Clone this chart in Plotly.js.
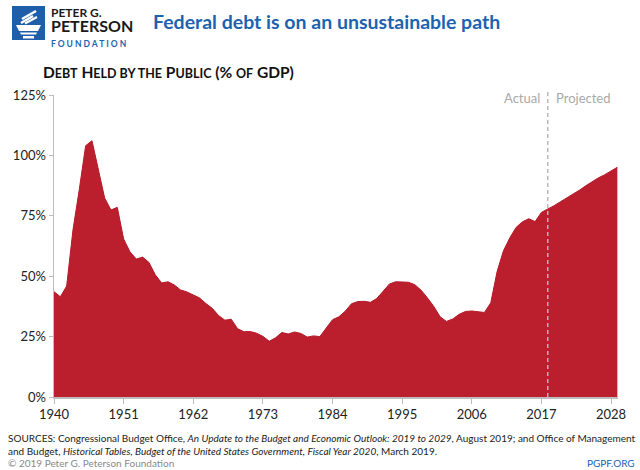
<!DOCTYPE html>
<html>
<head>
<meta charset="utf-8">
<script src="https://cdn.plot.ly/plotly-3.0.1.min.js"></script>
<style>
html,body{margin:0;padding:0;background:#fff;}
#chart{width:640px;height:470px;}
</style>
</head>
<body>
<div id="chart"></div>
<script>
// ---- data ----
const years = [];
for (let y = 1940; y <= 2029; y++) years.push(y);
const debtPct = [
  43.6, 41.5, 45.9, 69.2, 86.0, 104.0, 106.1, 94.0, 82.4, 77.4,   // 1940-1949
  78.5, 65.4, 60.1, 57.1, 57.9, 55.7, 50.6, 47.2, 47.7, 46.4,    // 1950-1959
  44.3, 43.5, 42.3, 41.0, 38.7, 36.7, 33.7, 31.8, 32.2, 28.3,    // 1960-1969
  27.0, 27.1, 26.4, 25.1, 23.1, 24.5, 26.7, 26.1, 26.9, 26.3,    // 1970-1979
  24.8, 25.3, 25.0, 28.5, 32.0, 33.2, 35.5, 38.6, 39.5, 39.6,    // 1980-1989
  39.2, 40.8, 44.0, 46.8, 47.7, 47.7, 47.5, 46.5, 44.2, 41.0,    // 1990-1999
  37.5, 33.2, 31.3, 32.3, 34.2, 35.4, 35.6, 35.3, 35.0, 39.0,    // 2000-2009
  51.9, 60.5, 65.8, 70.2, 72.5, 73.8, 72.6, 76.4, 77.7, 79.2,    // 2010-2019
  80.8, 82.3, 83.9, 85.6, 87.4, 89.1, 90.7, 92.0, 93.6, 95.1     // 2020-2029
];
const lastActualYear = 2018;
const xTickVals = [1940, 1951, 1962, 1973, 1984, 1995, 2006, 2017, 2028];
const yTickVals = [0, 25, 50, 75, 100, 125];
const yTickText = ['0%', '25%', '50%', '75%', '100%', '125%'];

const titleText = 'Federal debt is on an unsustainable path';
const SC = '<span style="font-size:12.5px">';
const subtitleText = 'D' + SC + 'EBT</span> H' + SC + 'ELD BY THE</span> P' + SC + 'UBLIC</span> (% ' + SC + 'OF</span> GDP)';
const sourceLine1 = 'SOURCES: Congressional Budget Office, <i>An Update to the Budget and Economic Outlook: 2019 to 2029</i>, August 2019; and Office of Management';
const sourceLine2 = 'and Budget, <i>Historical Tables, Budget of the United States Government, Fiscal Year 2020</i>, March 2019.';
const copyText = '© 2019 Peter G. Peterson Foundation';
const siteText = 'PGPF.ORG';
const logoLine1 = 'PETER G.';
const logoLine2 = 'PETERSON';
const logoLine3 = 'FOUNDATION'.split('').join(' ');

// ---- layout helpers (pixel -> paper) ----
const M = {l: 54, r: 22, t: 95, b: 73};
const PW = 640 - M.l - M.r, PH = 470 - M.t - M.b;
const px = x => (x - M.l) / PW;
const py = y => (470 - M.b - y) / PH;

const RED = '#bb1e2d';
const BLUE = '#1b63b0';
const FONT = 'Lato, "Open Sans", sans-serif';

function ann(text, x, y, opts) {
  return Object.assign({
    text: text, xref: 'paper', yref: 'paper', x: px(x), y: py(y),
    showarrow: false, xanchor: 'left', yanchor: 'middle',
    font: {family: FONT, size: 13, color: '#222'}
  }, opts || {});
}

// logo square and torch icon
const LX = 12, LY = 6, LS = 34;
function P(pts) {
  return 'M ' + pts.map(p => px(LX + p[0]) + ',' + py(LY + p[1])).join(' L ') + ' Z';
}
function L2(a, b) {
  return 'M ' + px(LX + a[0]) + ',' + py(LY + a[1]) + ' L ' + px(LX + b[0]) + ',' + py(LY + b[1]);
}

const shapes = [
  {type: 'rect', xref: 'paper', yref: 'paper', x0: px(LX), x1: px(LX + LS - 1), y0: py(LY), y1: py(LY + LS),
   fillcolor: '#1f5ea8', line: {width: 0}, layer: 'above'},
  {type: 'path', xref: 'paper', yref: 'paper', path: P([[4,19],[29,19],[26,25],[7,25]]), fillcolor: '#fff', line: {width: 0}},
  {type: 'path', xref: 'paper', yref: 'paper', path: P([[8,26.5],[25,26.5],[24,28.5],[9,28.5]]), fillcolor: '#fff', line: {width: 0}},
  {type: 'path', xref: 'paper', yref: 'paper', path: P([[11,30],[22,30],[22,32.5],[11,32.5]]), fillcolor: '#fff', line: {width: 0}},
  {type: 'path', xref: 'paper', yref: 'paper', path: L2([9,17],[21,10]), line: {color: '#fff', width: 2.5}},
  {type: 'path', xref: 'paper', yref: 'paper', path: L2([10,13],[24,5]), line: {color: '#fff', width: 2.5}},
  {type: 'path', xref: 'paper', yref: 'paper', path: L2([13,17.5],[25,11]), line: {color: '#fff', width: 2}},
  // actual / projected divider
  {type: 'line', xref: 'x', yref: 'paper', x0: lastActualYear, x1: lastActualYear, y0: 0, y1: py(91),
   line: {color: '#b9b9b9', width: 1.5, dash: '4px,3px'}, layer: 'above'}
];

const logoText =
  '<span style="font-size:12px">' + logoLine1 + '</span><br>' +
  '<span style="font-size:16px">' + logoLine2 + '</span><br>' +
  '<span style="font-size:8.5px;color:' + BLUE + '">' + logoLine3 + '</span>';

const annotations = [
  ann(logoText, 50, 26.5, {align: 'left', borderpad: 0, font: {family: FONT, size: 11.5, color: '#1a1a1a', weight: 'bold'}}),
  ann(titleText, 151, 21, {font: {family: FONT, size: 19.5, color: BLUE, weight: 'bold'}}),
  ann(subtitleText, 41, 72, {font: {family: FONT, size: 15.5, color: '#111', weight: 'bold'}}),
  ann('Actual', 542, 98, {xanchor: 'right', font: {family: FONT, size: 13, color: '#a9a9a9'}}),
  ann('Projected', 554, 98, {font: {family: FONT, size: 13, color: '#a9a9a9'}}),
  ann(sourceLine1, 6, 438, {font: {family: FONT, size: 10, color: '#222'}}),
  ann(sourceLine2, 6, 451, {font: {family: FONT, size: 10, color: '#222'}}),
  ann(copyText, 6, 463, {font: {family: FONT, size: 10, color: '#8a8a8a'}}),
  ann(siteText, 637, 463, {xanchor: 'right', font: {family: FONT, size: 10, color: BLUE}})
];

const trace = {
  x: years, y: debtPct, type: 'scatter', mode: 'lines',
  fill: 'tozeroy', fillcolor: RED,
  line: {color: '#b51a29', width: 1}, hoverinfo: 'skip'
};

const layout = {
  width: 640, height: 470,
  margin: M,
  paper_bgcolor: '#fff', plot_bgcolor: '#fff',
  showlegend: false,
  font: {family: FONT, size: 13, color: '#222'},
  xaxis: {
    range: [1940, 2029.1], tickvals: xTickVals, ticktext: xTickVals.map(String),
    showgrid: false, zeroline: false, showline: true, linecolor: '#bdbdbd', linewidth: 1.5,
    ticks: 'outside', ticklen: 5, tickwidth: 1, tickcolor: '#bdbdbd',
    tickfont: {family: FONT, size: 13, color: '#222'}, fixedrange: true
  },
  yaxis: {
    range: [0, 125], tickvals: yTickVals, ticktext: yTickText,
    showgrid: false, zeroline: false, showline: true, linecolor: '#bdbdbd', linewidth: 1.5,
    ticks: 'outside', ticklen: 4, tickwidth: 1, tickcolor: '#bdbdbd',
    tickfont: {family: FONT, size: 13, color: '#222'}, fixedrange: true
  },
  shapes: shapes,
  annotations: annotations
};

Plotly.newPlot('chart', [trace], layout, {displayModeBar: false, staticPlot: true});
</script>
</body>
</html>
